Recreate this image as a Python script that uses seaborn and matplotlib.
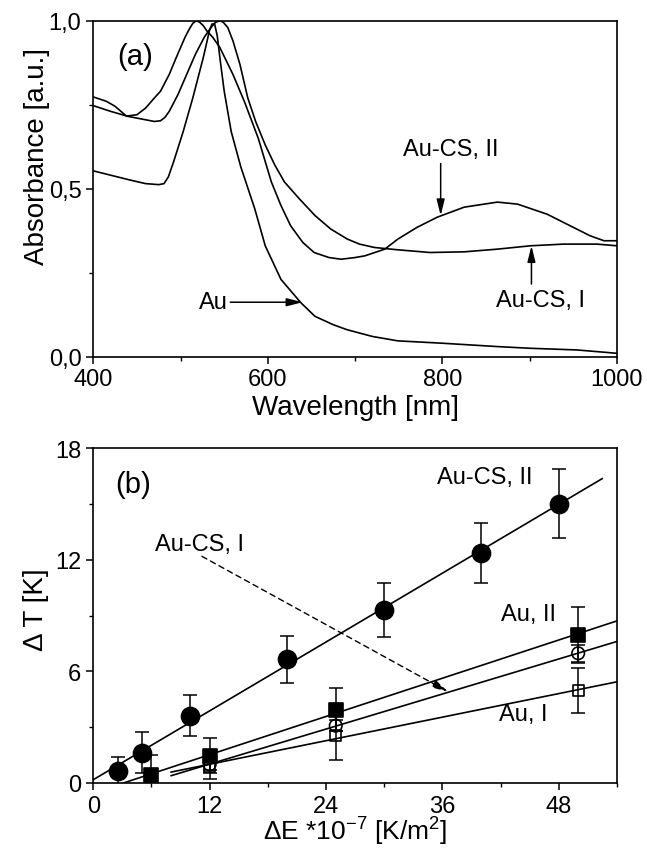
import numpy as np
import pandas as pd
import matplotlib
matplotlib.use("Agg")
import matplotlib.pyplot as plt
from matplotlib.ticker import MultipleLocator, FuncFormatter
import seaborn as sns

# ── panel (a): absorbance spectra ──────────────────────────────────────────
wl_au = [400, 420, 440, 460, 475, 481, 486, 492, 503, 514, 526, 530, 533,
         536, 539, 542, 546, 550, 558, 569, 585, 597, 615, 638, 654, 675,
         691, 720, 749, 800, 863, 900, 954, 1000]
ab_au = [0.553, 0.54, 0.527, 0.515, 0.512, 0.515, 0.535, 0.58, 0.67, 0.77,
         0.89, 0.935, 0.97, 0.99, 0.99, 0.955, 0.87, 0.79, 0.67, 0.565, 0.44,
         0.33, 0.23, 0.16, 0.12, 0.095, 0.08, 0.06, 0.047, 0.04, 0.03, 0.025,
         0.02, 0.01]

wl_cs2 = [400, 415, 425, 438, 450, 460, 470, 477, 487, 495, 505, 510, 514,
          518, 522, 526, 530, 537, 545, 560, 573, 589, 604, 615, 626, 640,
          653, 670, 684, 700, 711, 734, 749, 771, 794, 825, 863, 886, 920,
          946, 969, 985, 1000]
ab_cs2 = [0.773, 0.76, 0.745, 0.716, 0.72, 0.74, 0.77, 0.79, 0.84, 0.89,
          0.95, 0.975, 0.992, 1.0, 0.995, 0.985, 0.97, 0.95, 0.92, 0.84, 0.76,
          0.65, 0.52, 0.45, 0.39, 0.34, 0.31, 0.295, 0.29, 0.295, 0.30, 0.32,
          0.35, 0.385, 0.415, 0.445, 0.46, 0.454, 0.424, 0.39, 0.36, 0.345,
          0.345]

wl_cs1 = [400, 420, 440, 460, 470, 477, 482, 487, 497, 507, 517, 527, 535,
          540, 545, 549, 554, 560, 568, 577, 586, 597, 608, 619, 636, 654,
          672, 691, 705, 722, 749, 786, 825, 863, 901, 939, 977, 1000]
ab_cs1 = [0.747, 0.73, 0.715, 0.705, 0.70, 0.702, 0.712, 0.73, 0.78, 0.84,
          0.90, 0.95, 0.98, 0.995, 1.0, 0.995, 0.98, 0.94, 0.87, 0.77, 0.70,
          0.63, 0.57, 0.52, 0.47, 0.42, 0.38, 0.35, 0.335, 0.325, 0.318, 0.31,
          0.312, 0.32, 0.33, 0.335, 0.335, 0.33]

# ── panel (b): temperature rise vs. energy ─────────────────────────────────
x_cs2 = [2.5, 5, 10, 20, 30, 40, 48]
y_cs2 = [0.62, 1.62, 3.62, 6.66, 9.31, 12.35, 15.0]
e_cs2 = [0.77, 1.1, 1.12, 1.26, 1.46, 1.6, 1.85]

x_au2 = [6, 12, 25, 50]
y_au2 = [0.43, 1.47, 3.94, 7.95]
e_au2 = [1.07, 0.93, 1.15, 1.5]

x_cs1 = [12, 25, 50]
y_cs1 = [1.0, 3.08, 6.97]
e_cs1 = [0.3, 0.3, 0.45]

x_au1 = [12, 25, 50]
y_au1 = [0.9, 2.54, 4.96]
e_au1 = [0.7, 1.3, 1.2]

# x-extent of each fitted line
fit_range = {"cs2": (0, 52.5), "au2": (2.5, 54), "cs1": (8, 54), "au1": (8, 54)}

FONT = ["Liberation Sans", "DejaVu Sans"]
sns.set_theme(style="ticks")
plt.rcParams.update({
    "font.family": FONT,
    "mathtext.default": "regular",
    "axes.linewidth": 1.2,
    "axes.edgecolor": "black",
    "xtick.direction": "out", "ytick.direction": "out",
    "xtick.major.size": 5, "ytick.major.size": 5,
    "xtick.minor.size": 3, "ytick.minor.size": 3,
    "xtick.major.width": 1.1, "ytick.major.width": 1.1,
    "xtick.minor.width": 1.0, "ytick.minor.width": 1.0,
    "xtick.color": "black", "ytick.color": "black",
    "xtick.labelsize": 17, "ytick.labelsize": 17,
    "axes.labelsize": 20, "text.color": "black", "axes.labelcolor": "black",
})

fig = plt.figure(figsize=(6.47, 8.53), dpi=100)
ax1 = fig.add_axes([0.1442, 0.5807, 0.8094, 0.3939])
ax2 = fig.add_axes([0.1442, 0.0809, 0.8094, 0.3927])

arrow = dict(arrowstyle="-|>,head_length=0.8,head_width=0.2", color="black",
             lw=1.1, shrinkA=0, shrinkB=0, mutation_scale=12)

# ── (a) ────────────────────────────────────────────────────────────────────
for wl, ab in [(wl_au, ab_au), (wl_cs2, ab_cs2), (wl_cs1, ab_cs1)]:
    sns.lineplot(x=wl, y=ab, ax=ax1, color="black", lw=1.2, sort=False,
                 estimator=None)
ax1.set_xlim(400, 1000)
ax1.set_ylim(0, 1.0)
ax1.xaxis.set_major_locator(MultipleLocator(200))
ax1.xaxis.set_minor_locator(MultipleLocator(100))
ax1.yaxis.set_major_locator(MultipleLocator(0.5))
ax1.yaxis.set_minor_locator(MultipleLocator(0.25))
ax1.yaxis.set_major_formatter(FuncFormatter(lambda v, p: f"{v:.1f}".replace(".", ",")))
ax1.set_xlabel("Wavelength [nm]")
ax1.set_ylabel("Absorbance [a.u.]")
ax1.xaxis.set_label_coords(0.5, -0.11)
ax1.yaxis.set_label_coords(-0.082, 0.6)

ax1.text(448, 0.895, "(a)", fontsize=21, ha="center", va="center")
ax1.text(810, 0.618, "Au-CS, II", fontsize=17, ha="center", va="center")
ax1.annotate("", xy=(798, 0.42), xytext=(798, 0.575), arrowprops=arrow)
ax1.text(912, 0.168, "Au-CS, I", fontsize=17, ha="center", va="center")
ax1.annotate("", xy=(902, 0.33), xytext=(902, 0.216), arrowprops=arrow)
ax1.text(538, 0.162, "Au", fontsize=17, ha="center", va="center")
ax1.annotate("", xy=(640, 0.162), xytext=(557, 0.162), arrowprops=arrow)

# ── (b) ────────────────────────────────────────────────────────────────────
series = [
    ("cs2", x_cs2, y_cs2, e_cs2, "o", 13, "black"),
    ("au2", x_au2, y_au2, e_au2, "s", 10.5, "black"),
    ("cs1", x_cs1, y_cs1, e_cs1, "o", 9, "none"),
    ("au1", x_au1, y_au1, e_au1, "s", 8, "none"),
]
for key, xs, ys, es, mk, ms, fc in series:
    slope, icpt = np.polyfit(xs, ys, 1)
    lo, hi = fit_range[key]
    fit = pd.DataFrame({"x": [lo, hi], "y": [icpt + slope * lo, icpt + slope * hi]})
    sns.lineplot(data=fit, x="x", y="y", ax=ax2, color="black", lw=1.2)
    ax2.errorbar(xs, ys, yerr=es, fmt="none", ecolor="black", elinewidth=1.1,
                 capsize=5, capthick=1.1, zorder=3)
    sns.scatterplot(x=xs, y=ys, ax=ax2, marker=mk, s=ms ** 2, color="black",
                    facecolor=fc, edgecolor="black", linewidth=1.2, zorder=4)

ax2.set_xlim(0, 54)
ax2.set_ylim(0, 18)
ax2.xaxis.set_major_locator(MultipleLocator(12))
ax2.xaxis.set_minor_locator(MultipleLocator(6))
ax2.yaxis.set_major_locator(MultipleLocator(6))
ax2.yaxis.set_minor_locator(MultipleLocator(3))
ax2.set_xlabel("ΔE *10$^{-7}$ [K/m$^{2}$]", fontsize=19)
ax2.set_ylabel("Δ T [K]")
ax2.xaxis.set_label_coords(0.5, -0.095)
ax2.yaxis.set_label_coords(-0.085, 0.52)

ax2.text(4.1, 16.07, "(b)", fontsize=21, ha="center", va="center")
ax2.text(40.4, 16.43, "Au-CS, II", fontsize=17, ha="center", va="center")
ax2.text(11.0, 12.84, "Au-CS, I", fontsize=17, ha="center", va="center")
ax2.text(44.9, 9.08, "Au, II", fontsize=17, ha="center", va="center")
ax2.text(44.3, 3.7, "Au, I", fontsize=17, ha="center", va="center")
dashed = dict(arrow, lw=1.0, linestyle=(0, (4, 3)))
ax2.annotate("", xy=(36.6, 4.9), xytext=(11.2, 12.18), arrowprops=dashed)

for ax in (ax1, ax2):
    for s in ax.spines.values():
        s.set_visible(True)
        s.set_color("black")

fig.savefig("out.png", dpi=100)
